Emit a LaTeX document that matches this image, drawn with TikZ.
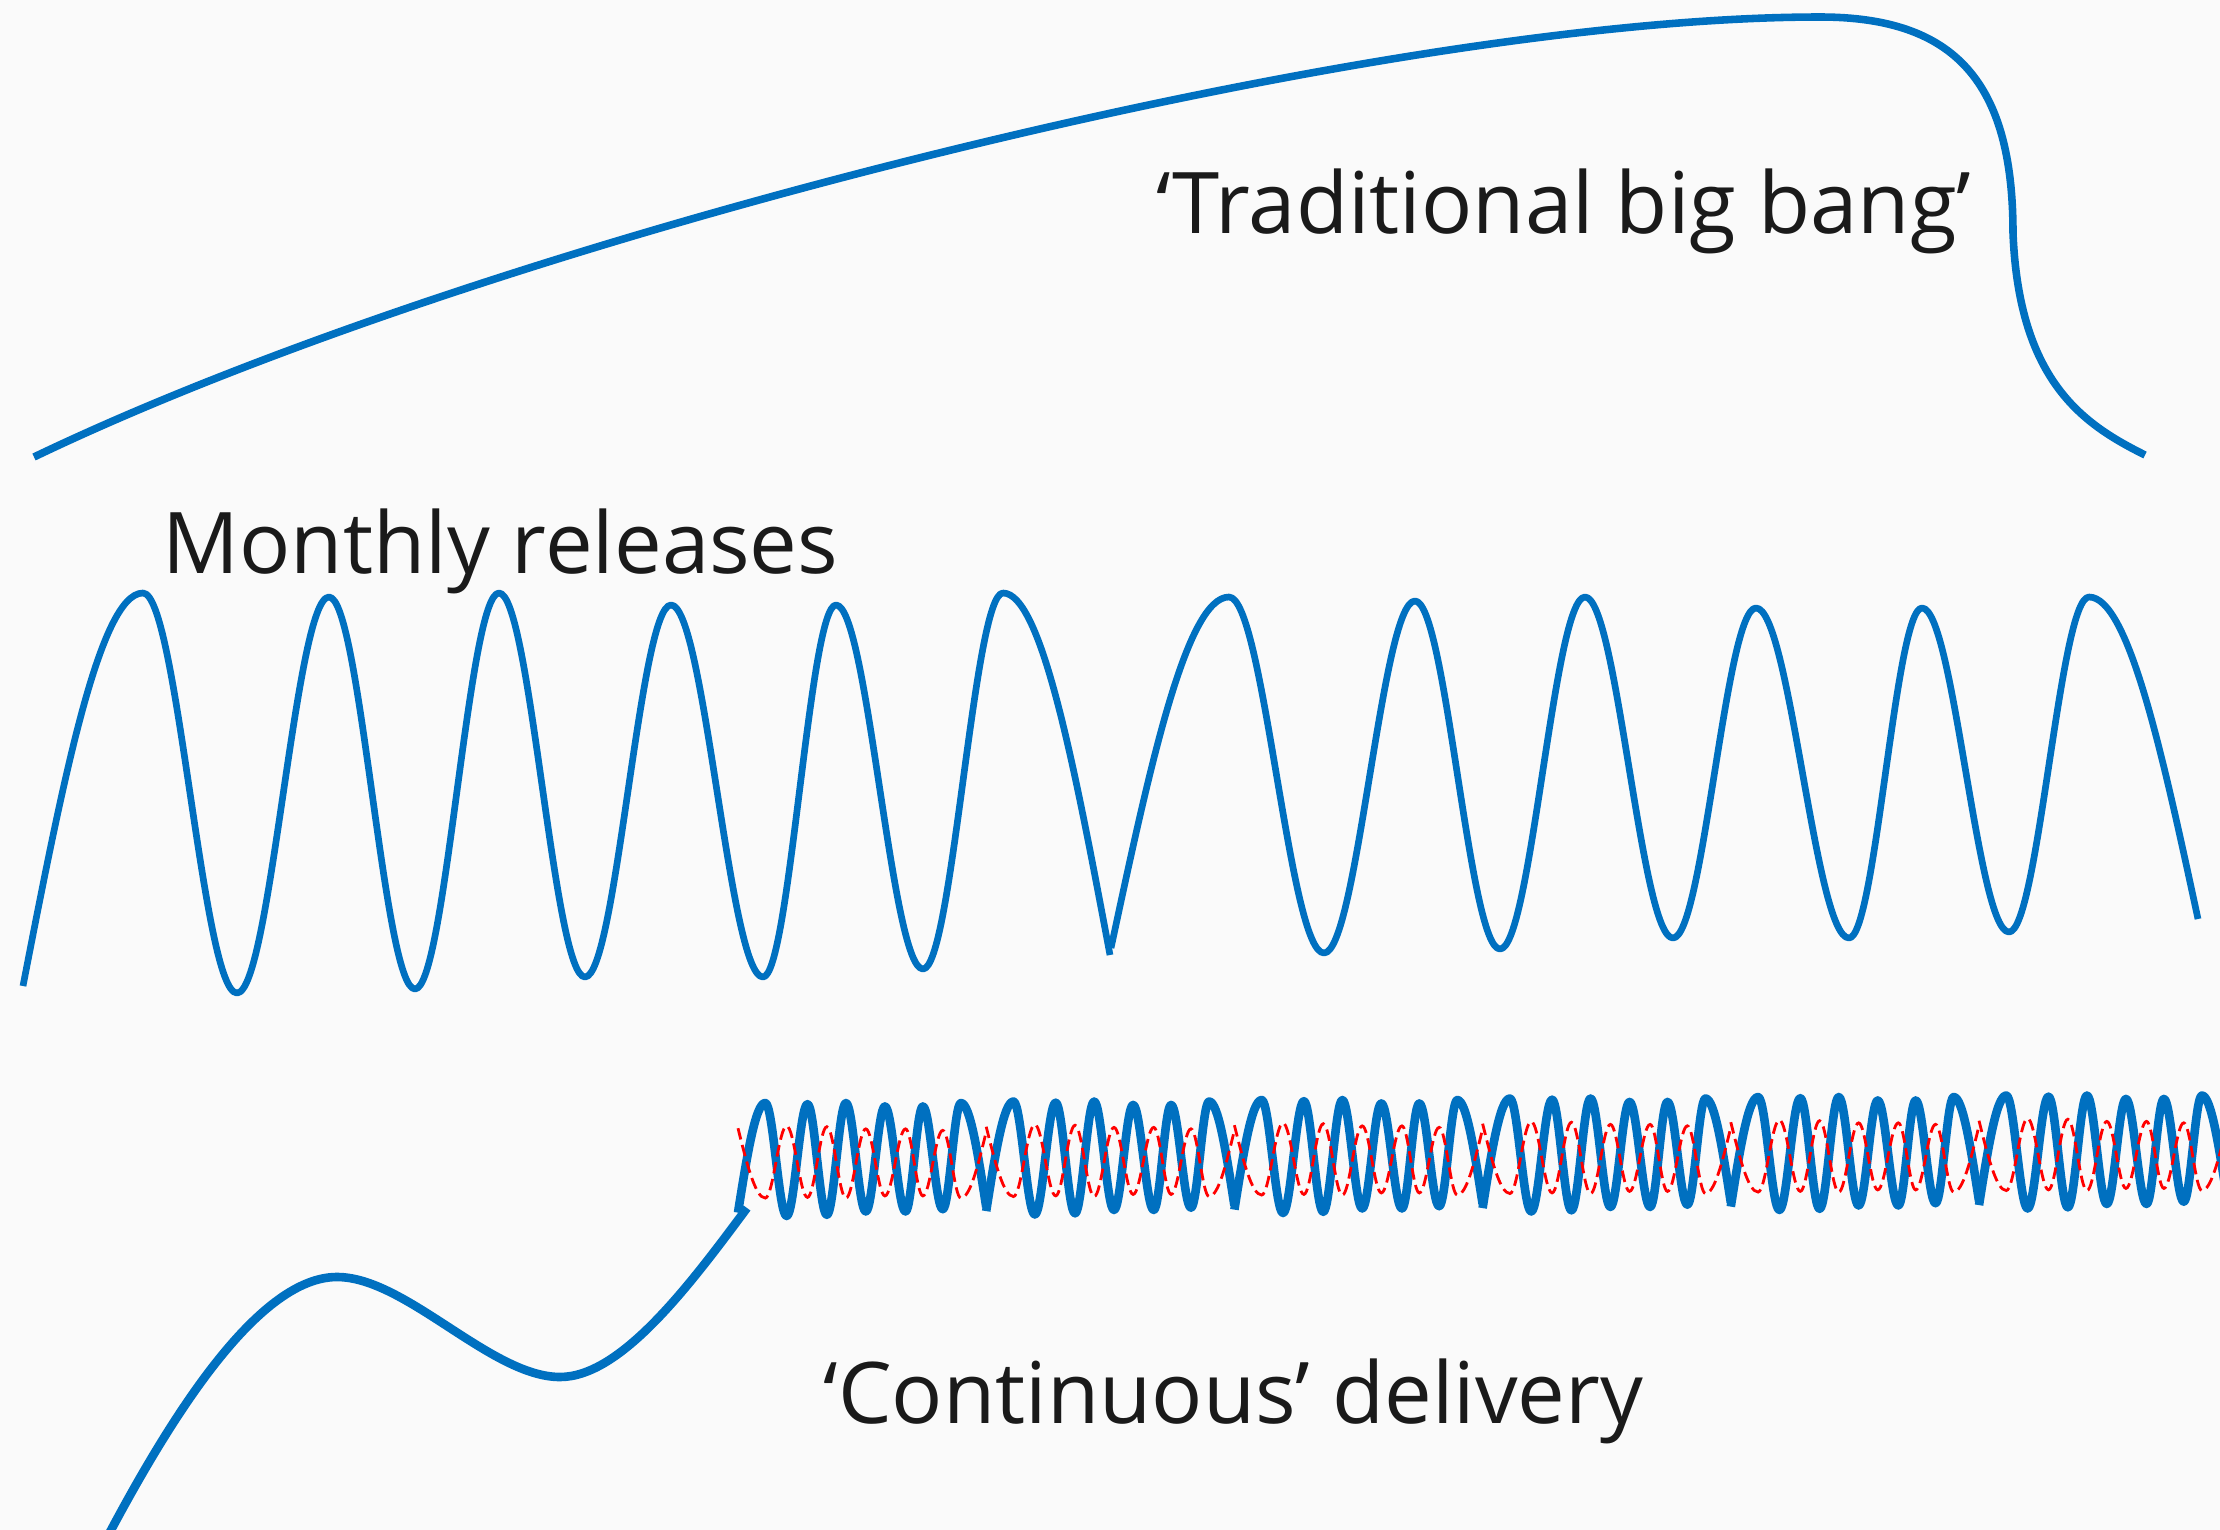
\documentclass[tikz,border=0pt]{standalone}
\usepackage{fontspec}
\setmainfont[Kerning=Off]{Open Sans}
\definecolor{bgcol}{HTML}{FAFAFA}
\definecolor{wavblue}{HTML}{0070C0}
\definecolor{wavred}{HTML}{FF0000}
\definecolor{inkcol}{HTML}{1A1A1A}
\tikzset{
  bigline/.style={draw=wavblue, line width=2.15pt, line join=round},
  monthline/.style={draw=wavblue, line width=1.9pt, line join=round},
  cdline/.style={draw=wavblue, line width=2.45pt, line join=round},
  cdshadow/.style={draw=wavred, line width=0.8pt, dash pattern=on 3.3pt off 1.6pt},
  caption/.style={inner sep=0pt, anchor=base west, text=inkcol,
    font=\fontsize{24.2}{29}\selectfont},
}
\begin{document}
\begin{tikzpicture}[x=0.01cm, y=-0.01cm]
\useasboundingbox (0,0) rectangle (2220,1530);
\fill[bgcol] (0,0) rectangle (2220,1530);
\clip (0,0) rectangle (2220,1530);

% long slow build-up ending in one big release
\draw[bigline] (34,457) .. controls (484,241) and (1370,17) .. (1820,17)
  .. controls (1955,17) and (2013,82) .. (2013,233)
  .. controls (2019,383) and (2085,425) .. (2145,455);

% monthly cycle, first half
\draw[monthline] (23,986) sin (143,593)
  cos (190,793) sin (237,993) cos (283,795) sin (329,597)
  cos (372,793) sin (415,989) cos (457,791) sin (499,593)
  cos (542,785) sin (585,977) cos (628,791) sin (671,605)
  cos (717,791) sin (763,977) cos (799.5,791) sin (836,605)
  cos (879.5,787) sin (923,969) cos (963,781) sin (1003,593)
  cos (1110,955);
% monthly cycle, second half
\draw[monthline] (1111,948) sin (1229,597)
  cos (1276.5,775) sin (1324,953) cos (1369.5,777) sin (1415,601)
  cos (1457.5,775) sin (1500,949) cos (1542.5,773) sin (1585,597)
  cos (1629,767.5) sin (1673,938) cos (1714.5,773) sin (1756,608)
  cos (1802.5,773) sin (1849,938) cos (1885.5,773) sin (1922,608)
  cos (1965.5,770) sin (2009,932) cos (2049,764.5) sin (2089,597)
  cos (2198,919);

% run-up into continuous delivery
\draw[cdline] (110,1532) .. controls (175,1410) and (260,1277) .. (337,1277)
  .. controls (406,1277) and (491,1377) .. (560,1377)
  .. controls (620,1377) and (687,1289) .. (747,1208);

% continuous delivery: short cycles, blue
\foreach \i in {0,...,5} {
  \begin{scope}[shift={(738+248.2*\i,1216-1.5*\i)}, xscale=248.2, yscale=-113]
    \draw[cdline] (0,0.03) sin (0.110,1)
      cos (0.153,0.5) sin (0.196,0) cos (0.238,0.495) sin (0.280,0.99)
      cos (0.319,0.495) sin (0.358,0.01) cos (0.3965,0.505) sin (0.435,1)
      cos (0.475,0.52) sin (0.515,0.04) cos (0.5535,0.505) sin (0.592,0.97)
      cos (0.6335,0.505) sin (0.675,0.04) cos (0.71,0.505) sin (0.745,0.97)
      cos (0.785,0.515) sin (0.825,0.06) cos (0.8615,0.53) sin (0.898,1)
      cos (1,0.08);
  \end{scope}
}
% continuous delivery: counter-phase cycles, red dashed
\foreach \i in {0,...,5} {
  \begin{scope}[shift={(738+248.2*\i,1216-1.5*\i)}, xscale=248.2, yscale=-113]
    \draw[cdshadow] (0,0.777) sin (0.110,0.159)
      cos (0.153,0.4775) sin (0.196,0.796) cos (0.238,0.481) sin (0.280,0.165)
      cos (0.319,0.481) sin (0.358,0.790) cos (0.3965,0.474) sin (0.435,0.159)
      cos (0.475,0.465) sin (0.515,0.771) cos (0.5535,0.474) sin (0.592,0.178)
      cos (0.6335,0.474) sin (0.675,0.771) cos (0.71,0.474) sin (0.745,0.178)
      cos (0.785,0.468) sin (0.825,0.758) cos (0.8615,0.458) sin (0.898,0.159)
      cos (1,0.745);
  \end{scope}
}

% captions
\node[caption] (bigbang) at (1156,233) {‘Traditional big bang’};
\node[caption] (monthly) at (162,573) {Monthly releases};
\node[caption] (continuous) at (823,1423) {‘Continuous’ delivery};
\end{tikzpicture}
\end{document}
